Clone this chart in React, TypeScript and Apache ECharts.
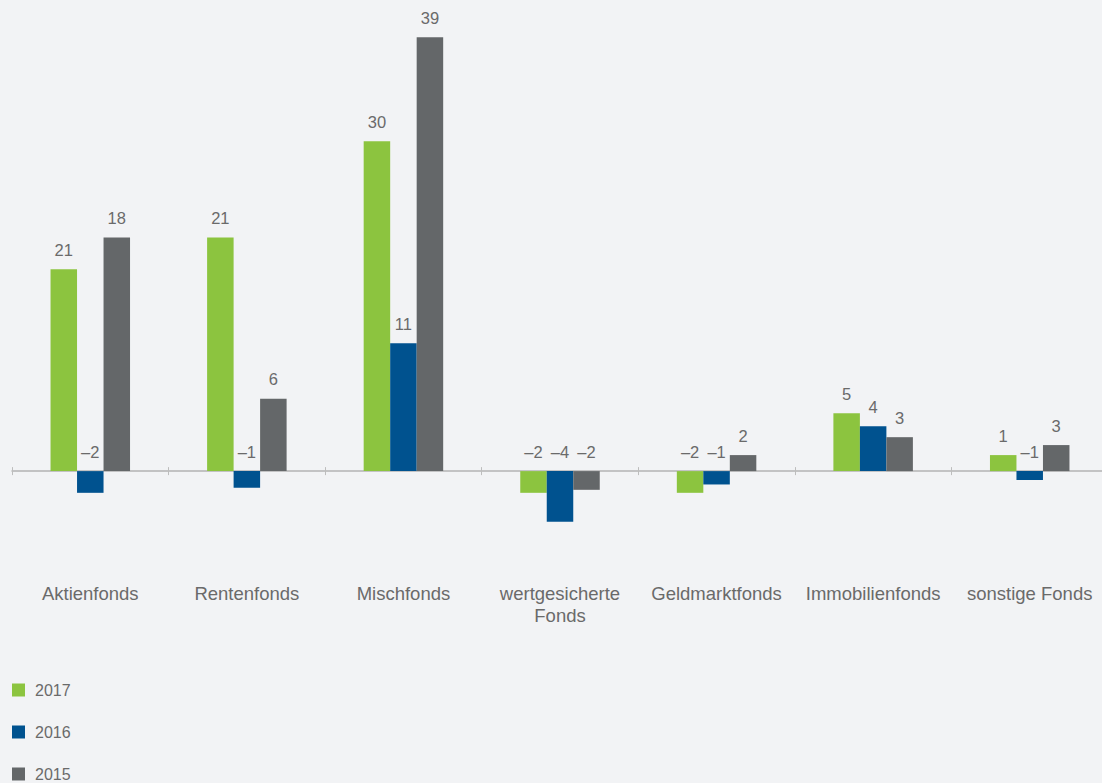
import React, { useEffect, useRef } from "react";
import * as echarts from "echarts";

const categories = [
  "Aktienfonds",
  "Rentenfonds",
  "Mischfonds",
  "wertgesicherte\nFonds",
  "Geldmarktfonds",
  "Immobilienfonds",
  "sonstige Fonds",
];
const seriesNames = ["2017", "2016", "2015"];
// bar heights as drawn
const values2017 = [18.15, 21.0, 29.65, -1.95, -1.95, 5.2, 1.44];
const values2016 = [-1.95, -1.5, 11.5, -4.55, -1.2, 4.04, -0.8];
const values2015 = [21.0, 6.5, 39.0, -1.68, 1.44, 3.05, 2.34];
// labels as printed
const labels2017 = ["21", "21", "30", "–2", "–2", "5", "1"];
const labels2016 = ["–2", "–1", "11", "–4", "–1", "4", "–1"];
const labels2015 = ["18", "6", "39", "–2", "2", "3", "3"];

const colors = ["#8cc43f", "#00528f", "#646769"];
const TEXT = "#6a6a6a";
const FONT = "'Liberation Sans', Arial, Helvetica, sans-serif";

export default function App() {
  const ref = useRef<HTMLDivElement>(null);
  useEffect(() => {
    document.body.style.margin = "0";
    document.body.style.overflow = "hidden";
    const chart = echarts.init(ref.current!, undefined, { renderer: "svg" });
    const data = [values2017, values2016, values2015];
    const labels = [labels2017, labels2016, labels2015];
    chart.setOption({
      animation: false,
      backgroundColor: "#f2f3f5",
      textStyle: { fontFamily: FONT },
      grid: { left: 12, right: 0, top: 26, height: 556.4, containLabel: false },
      legend: {
        orient: "vertical",
        left: 12,
        top: 682,
        padding: 0,
        itemWidth: 13,
        itemHeight: 13,
        itemGap: 26,
        icon: "rect",
        textStyle: {
          fontSize: 16,
          color: TEXT,
          fontFamily: FONT,
          padding: [0, 0, 0, 5],
        },
        data: seriesNames,
      },
      xAxis: [
        {
          type: "category",
          data: categories,
          axisLine: { onZero: true, lineStyle: { color: "#b3b3b3", width: 1.5 } },
          axisTick: { show: true, length: 4, lineStyle: { color: "#bdbdbd" } },
          axisLabel: {
            margin: 0,
            fontSize: 18.5,
            lineHeight: 22,
            color: TEXT,
            fontFamily: FONT,
            interval: 0,
          },
        },
        {
          type: "category",
          data: categories,
          position: "bottom",
          axisLine: {
            show: true,
            onZero: true,
            onZeroAxisIndex: 1,
            lineStyle: { opacity: 0, width: 0 },
          },
          axisTick: { show: true, inside: true, length: 4, lineStyle: { color: "#bdbdbd" } },
          axisLabel: { show: false },
        },
      ],
      yAxis: [
        { type: "value", min: -10, max: 40, show: false, splitLine: { show: false } },
        { type: "value", min: -10, max: 40, show: false, splitLine: { show: false } },
      ],
      series: seriesNames.map((name, i) => ({
        name,
        type: "bar",
        xAxisIndex: 0,
        yAxisIndex: 0,
        data: data[i],
        barWidth: 26.5,
        barGap: "0%",
        itemStyle: { color: colors[i] },
        label: {
          show: true,
          position: "top",
          distance: 11,
          fontSize: 16.5,
          color: TEXT,
          fontFamily: FONT,
          formatter: (p: any) => labels[i][p.dataIndex],
        },
      })),
    });
    return () => chart.dispose();
  }, []);
  return <div ref={ref} style={{ width: 1108, height: 820 }} />;
}
